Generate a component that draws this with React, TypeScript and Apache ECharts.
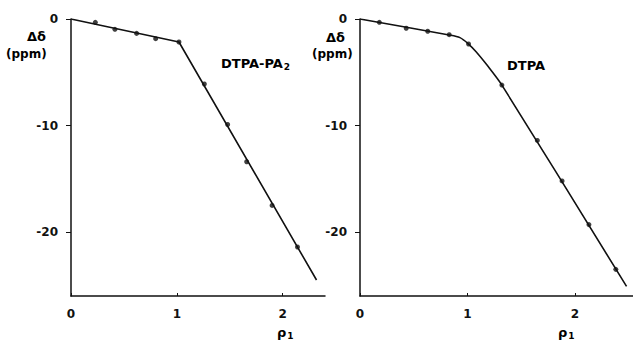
import React, { useEffect, useRef } from "react";
import * as echarts from "echarts";

// Left panel: DTPA-PA2
const leftPointsX = [0.23, 0.415, 0.62, 0.8, 1.02, 1.26, 1.48, 1.66, 1.9, 2.14];
const leftPointsY = [-0.31, -0.97, -1.35, -1.85, -2.16, -6.1, -9.9, -13.4, -17.5, -21.4];
const leftLineX = [0, 1.02, 2.32];
const leftLineY = [0, -2.16, -24.5];

// Right panel: DTPA
const rightPointsX = [0.18, 0.43, 0.63, 0.83, 1.01, 1.32, 1.65, 1.88, 2.13, 2.38];
const rightPointsY = [-0.31, -0.87, -1.15, -1.47, -2.35, -6.2, -11.4, -15.2, -19.3, -23.5];
const rightLineX = [0, 0.83, 0.93, 1.01, 1.08, 1.18, 1.32, 2.48];
const rightLineY = [0, -1.5, -1.75, -2.35, -3.07, -4.3, -6.2, -25.1];

const xTicks = [0, 1, 2];
const yTicks = [0, -10, -20];

const zip = (xs: number[], ys: number[]) => xs.map((x, i) => [x, ys[i]]);

const FONT = "DejaVu Sans";
const INK = "#111";

function xAxisCfg(grid: number, max: number) {
  return {
    type: "value",
    gridIndex: grid,
    min: 0,
    max,
    axisLine: { show: true, onZero: false, lineStyle: { color: INK, width: 1.5 } },
    axisTick: { show: true, inside: true, length: 3, customValues: xTicks, lineStyle: { color: INK } },
    axisLabel: {
      customValues: xTicks,
      margin: 12,
      color: INK,
      fontFamily: FONT,
      fontWeight: "bold",
      fontSize: 12,
    },
    splitLine: { show: false },
  };
}

function yAxisCfg(grid: number) {
  return {
    type: "value",
    gridIndex: grid,
    min: -26,
    max: 0,
    axisLine: { show: true, onZero: false, lineStyle: { color: INK, width: 1.5 } },
    axisTick: { show: true, length: 5, customValues: yTicks, lineStyle: { color: INK } },
    axisLabel: {
      customValues: yTicks,
      margin: 13,
      color: INK,
      fontFamily: FONT,
      fontWeight: "bold",
      fontSize: 12,
    },
    splitLine: { show: false },
  };
}

const rich = {
  a: { fontFamily: FONT, fontWeight: "bold", fontSize: 12, color: INK },
  b: { fontFamily: FONT, fontWeight: "bold", fontSize: 13, color: INK },
  g: { fontFamily: FONT, fontWeight: "bold", fontSize: 13, color: INK },
  s: { fontFamily: FONT, fontWeight: "bold", fontSize: 9, color: INK, padding: [6, 0, 0, 1] },
};

export default function App() {
  const ref = useRef<HTMLDivElement>(null);
  useEffect(() => {
    document.body.style.margin = "0";
    const chart = echarts.init(ref.current!, null, { renderer: "svg" });
    const t = (x: number, y: number, text: string) => ({
      type: "text",
      x,
      y,
      style: { text, rich },
    });
    chart.setOption({
      animation: false,
      backgroundColor: "#fff",
      grid: [
        { left: 71, top: 19, width: 254, height: 277 },
        { left: 360, top: 19, width: 273, height: 277 },
      ],
      xAxis: [xAxisCfg(0, 2.4), xAxisCfg(1, 2.54)],
      yAxis: [yAxisCfg(0), yAxisCfg(1)],
      series: [
        {
          type: "line",
          xAxisIndex: 0,
          yAxisIndex: 0,
          data: zip(leftLineX, leftLineY),
          showSymbol: false,
          lineStyle: { color: INK, width: 1.6 },
        },
        {
          type: "scatter",
          xAxisIndex: 0,
          yAxisIndex: 0,
          data: zip(leftPointsX, leftPointsY),
          symbolSize: 5,
          itemStyle: { color: INK },
        },
        {
          type: "line",
          xAxisIndex: 1,
          yAxisIndex: 1,
          data: zip(rightLineX, rightLineY),
          smooth: 0.3,
          showSymbol: false,
          lineStyle: { color: INK, width: 1.6 },
        },
        {
          type: "scatter",
          xAxisIndex: 1,
          yAxisIndex: 1,
          data: zip(rightPointsX, rightPointsY),
          symbolSize: 5,
          itemStyle: { color: INK },
        },
      ],
      graphic: [
        t(27, 30, "{g|Δδ}"),
        t(6, 48, "{a|(ppm)}"),
        t(326, 31, "{g|Δδ}"),
        t(312, 48, "{a|(ppm)}"),
        t(221, 56, "{b|DTPA-PA}{s|2}"),
        t(507, 59, "{b|DTPA}"),
        t(277, 325, "{g|ρ}{s|1}"),
        t(558, 325, "{g|ρ}{s|1}"),
      ],
    });
    return () => chart.dispose();
  }, []);
  return <div ref={ref} style={{ width: 633, height: 343 }} />;
}
